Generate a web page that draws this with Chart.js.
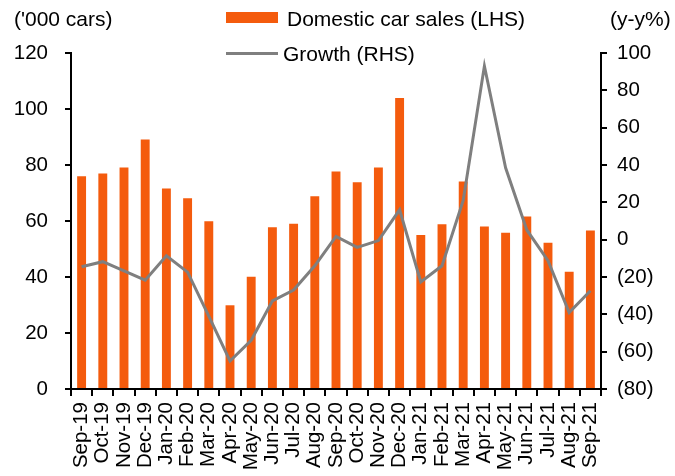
<!DOCTYPE html>
<html>
<head>
<meta charset="utf-8">
<script src="https://cdn.jsdelivr.net/npm/chart.js@4.4.0/dist/chart.umd.js"></script>
<style>
  html, body { margin: 0; padding: 0; background: #fff; }
  #wrap { position: relative; width: 675px; height: 476px; font-family: 'Liberation Sans', Arial, sans-serif; color: #000; }
  #wrap canvas { position: absolute; left: 0; top: 0; }
  .lbl { position: absolute; font-size: 21px; line-height: 21px; white-space: nowrap; }
  .swatch { position: absolute; }
</style>
</head>
<body>
<div id="wrap">
  <canvas id="c" width="675" height="476"></canvas>
  <div class="lbl" style="left:14px; top:8px;">('000 cars)</div>
  <div class="lbl" style="left:610px; top:8px;">(y-y%)</div>
  <div class="swatch" style="left:226px; top:12px; width:52px; height:11px; background:#f45b0d;"></div>
  <div class="lbl" style="left:287px; top:8px;">Domestic car sales (LHS)</div>
  <div class="swatch" style="left:226px; top:52px; width:52px; height:3px; background:#7f7f7f;"></div>
  <div class="lbl" style="left:283px; top:43px;">Growth (RHS)</div>
</div>
<script>
const months = ['Sep-19','Oct-19','Nov-19','Dec-19','Jan-20','Feb-20','Mar-20','Apr-20','May-20',
  'Jun-20','Jul-20','Aug-20','Sep-20','Oct-20','Nov-20','Dec-20','Jan-21','Feb-21','Mar-21',
  'Apr-21','May-21','Jun-21','Jul-21','Aug-21','Sep-21'];

// '000 cars, left axis
const sales = [76.0, 77.0, 79.1, 89.1, 71.6, 68.1, 59.9, 29.9, 40.1, 57.8, 59.0, 68.8, 77.7,
  73.8, 79.1, 103.9, 55.0, 58.8, 74.1, 58.0, 55.8, 61.6, 52.2, 41.9, 56.6];

// y-y %, right axis
const growth = [-14.5, -11.8, -16.7, -21.7, -8.6, -17.4, -41.0, -65.0, -53.9, -32.8, -27.0, -14.0, 1.8,
  -4.1, -0.5, 16.0, -22.7, -14.0, 21.0, 93.0, 38.5, 5.2, -11.3, -39.0, -27.4];

const FONT = { family: "'Liberation Sans', Arial, sans-serif", size: 20.5 };
const black = '#000';

new Chart(document.getElementById('c'), {
  data: {
    labels: months,
    datasets: [
      {
        type: 'line', label: 'Growth (RHS)', data: growth, yAxisID: 'y1',
        borderColor: '#7f7f7f', borderWidth: 3, pointRadius: 0, tension: 0, order: 0
      },
      {
        type: 'bar', label: 'Domestic car sales (LHS)', data: sales, yAxisID: 'y',
        backgroundColor: '#f45b0d', barPercentage: 0.42, categoryPercentage: 1, order: 1
      }
    ]
  },
  options: {
    responsive: false,
    animation: false,
    layout: { padding: { top: 53, left: 0, right: 0, bottom: 0 } },
    plugins: { legend: { display: false }, tooltip: { enabled: false } },
    scales: {
      x: {
        type: 'category',
        offset: true,
        afterFit: (s) => { s.height = 87; },
        border: { display: true, color: black, width: 2 },
        grid: { offset: true, drawOnChartArea: false, drawTicks: true, tickLength: 7, color: black, lineWidth: 2 },
        ticks: { color: black, font: FONT, minRotation: 90, maxRotation: 90, autoSkip: false, padding: 6 }
      },
      y: {
        position: 'left', min: 0, max: 120,
        afterFit: (s) => { s.width = 71; },
        border: { display: true, color: black, width: 2 },
        grid: { drawOnChartArea: false, drawTicks: true, tickLength: 6, color: black, lineWidth: 2 },
        ticks: { stepSize: 20, color: black, font: FONT, padding: 17 }
      },
      y1: {
        position: 'right', min: -80, max: 100,
        afterFit: (s) => { s.width = 74; },
        border: { display: true, color: black, width: 2 },
        grid: { drawOnChartArea: false, drawTicks: true, tickLength: 6, color: black, lineWidth: 2 },
        ticks: {
          stepSize: 20, color: black, font: FONT, padding: 10,
          callback: (v) => v < 0 ? '(' + (-v) + ')' : String(v)
        }
      }
    }
  }
});
</script>
</body>
</html>
